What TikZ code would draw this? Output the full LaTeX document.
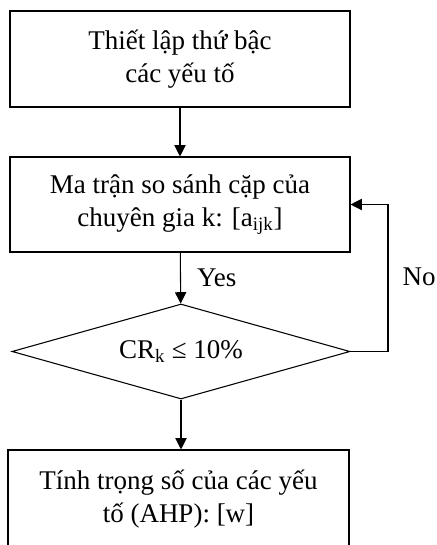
\documentclass[tikz,border=0pt]{standalone}
\usepackage{fontspec}
\setmainfont{Liberation Serif}
\usepackage{tikz}
\usetikzlibrary{positioning,arrows.meta,shapes.geometric}

\begin{document}
\begin{tikzpicture}[
  x=0.75pt,y=-0.75pt,
  font=\fontsize{20.25}{24.4}\selectfont,
  line width=0.8pt,
  >={Triangle[length=8.5pt,width=8.5pt]},
  box/.style={draw,rectangle,align=center,minimum width=255pt,minimum height=72pt,inner sep=0pt},
  dec/.style={draw,diamond,aspect=3.6,minimum width=253.5pt,minimum height=71.25pt,inner sep=0pt},
  fl/.style={->},
  lbl/.style={inner sep=0pt}
]
\clip (0,0) rectangle (436,545);
% steps
\node[box] (hier) at (180,59)    {Thiết lập thứ bậc\\các yếu tố};
\node[box,minimum height=71.25pt] (mat) at (180,204.5) {Ma trận so sánh cặp của\\chuyên gia k: [a\textsubscript{ijk}]};
\node[dec] (cr) at (181,351.5)   {CR\textsubscript{k} ≤ 10\%};
\node[box,minimum width=255.75pt,minimum height=73.5pt] (ahp) at (178.5,499) {Tính trọng số của các yếu\\tố (AHP): [w]};
% flow
\draw[fl] (hier) -- (mat);
\draw[fl] (mat) -- node[lbl,anchor=west,xshift=12pt] (yes) {Yes} (cr);
\draw[fl] (cr) -- (ahp.north -| cr.south);
% back to the matrix when inconsistent
\coordinate (turn) at (388,351.5);
\draw[fl] (cr.east) -- (turn) |- (mat.east);
\node[lbl,anchor=west] (no) at (402,277) {No};
\end{tikzpicture}
\end{document}
